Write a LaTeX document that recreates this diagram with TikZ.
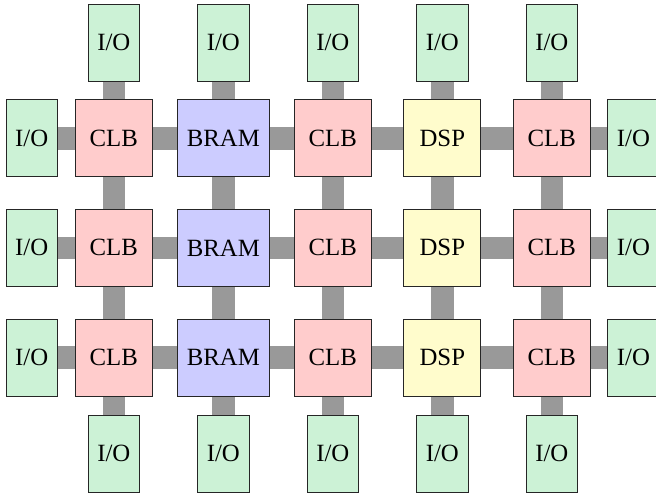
\documentclass[tikz,border=0pt]{standalone}
\usepackage{fontspec}
\setmainfont{Liberation Serif}
\usetikzlibrary{backgrounds}
\definecolor{iogreen}{RGB}{204,242,214}
\begin{document}
\begin{tikzpicture}[x=0.5pt,y=0.5pt,
  blk/.style={draw=black!85,line width=0.5pt,minimum height=38.5pt,inner sep=0pt,font=\fontsize{12.4}{14}\selectfont},
  clb/.style={blk,fill=red!20,minimum width=38.5pt},
  bram/.style={blk,fill=blue!20,minimum width=46.3pt},
  dsp/.style={blk,fill=yellow!20,minimum width=38.5pt},
  io/.style={blk,fill=iogreen,minimum width=25.7pt},
  wire/.style={line width=11.25pt,black!40}]
\useasboundingbox (0,0) rectangle (656,492);
\pgfmathsetmacro{\pitch}{109.5}
% logic blocks and side I/O
\foreach \r/\y in {1/353.7,2/244.1,3/134.5}{
  \foreach \c/\kind/\txt in {1/clb/CLB,2/bram/BRAM,3/clb/CLB,4/dsp/DSP,5/clb/CLB}
    \node[\kind] (b\r\c) at ({113.8+(\c-1)*\pitch},\y) {\txt};
  \node[io] (l\r) at (31.7,\y) {I/O};
  \node[io] (r\r) at (633.4,\y) {I/O};
}
% top and bottom I/O
\foreach \c in {1,...,5}{
  \node[io] (t\c) at ({113.8+(\c-1)*\pitch},449.3) {I/O};
  \node[io] (d\c) at ({113.8+(\c-1)*\pitch},38.5) {I/O};
}
% routing
\begin{scope}[on background layer]
\foreach \r in {1,2,3}
  \draw[wire] (l\r.center)--(b\r1.center)--(b\r2.center)--(b\r3.center)--(b\r4.center)--(b\r5.center)--(r\r.center);
\foreach \c in {1,...,5}
  \draw[wire] (t\c.center)--(b1\c.center)--(b2\c.center)--(b3\c.center)--(d\c.center);
\end{scope}
\end{tikzpicture}
\end{document}
